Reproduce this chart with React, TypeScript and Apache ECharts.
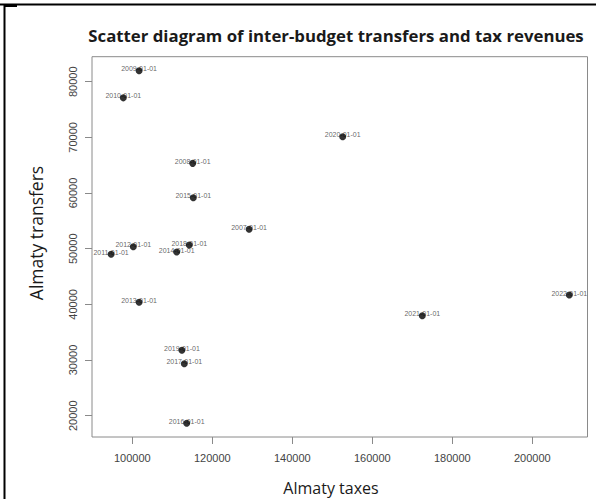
import React, { useEffect, useRef } from "react";
import * as echarts from "echarts";

// Annual observations: Almaty tax revenues vs inter-budget transfers
const dates = [
  "2007-01-01", "2008-01-01", "2009-01-01", "2010-01-01", "2011-01-01", "2012-01-01",
  "2013-01-01", "2014-01-01", "2015-01-01", "2016-01-01", "2017-01-01", "2018-01-01",
  "2019-01-01", "2020-01-01", "2021-01-01", "2022-01-01",
];
const taxes = [
  129200, 115100, 101700, 97750, 94700, 100250,
  101700, 111100, 115250, 113600, 113000, 114250,
  112400, 152600, 172500, 209250,
];
const transfers = [
  53500, 65330, 81960, 77100, 49000, 50350,
  40370, 49400, 59150, 18640, 29340, 50660,
  31750, 70100, 37960, 41680,
];
const xTicks = [100000, 120000, 140000, 160000, 180000, 200000];
const yTicks = [20000, 30000, 40000, 50000, 60000, 70000, 80000];

const W = 596;
const H = 499;

const plain = (v: number) => String(Math.round(v));

export default function App() {
  const ref = useRef<HTMLDivElement>(null);

  useEffect(() => {
    if (!ref.current) return;
    const chart = echarts.init(ref.current, undefined, { renderer: "svg", width: W, height: H });
    const points = dates.map((d, i) => [taxes[i], transfers[i], d]);

    chart.setOption({
      animation: false,
      backgroundColor: "#ffffff",
      grid: {
        left: 92,
        top: 56.7,
        width: 495.5,
        height: 380.3,
        show: true,
        borderColor: "#8a8a8a",
        borderWidth: 1,
        backgroundColor: "transparent",
      },
      xAxis: {
        type: "value",
        min: 89925,
        max: 213800,
        splitLine: { show: false },
        axisLine: { show: false },
        axisTick: { show: true, length: 7, customValues: xTicks, lineStyle: { color: "#8a8a8a" } },
        axisLabel: {
          customValues: xTicks,
          formatter: plain,
          margin: 15,
          color: "#444",
          fontSize: 11,
          fontFamily: "Liberation Sans",
        },
      },
      yAxis: {
        type: "value",
        min: 16174,
        max: 84491,
        splitLine: { show: false },
        axisLine: { show: false },
        axisTick: { show: true, length: 7, customValues: yTicks, lineStyle: { color: "#8a8a8a" } },
        axisLabel: {
          customValues: yTicks,
          formatter: plain,
          rotate: 90,
          margin: 14,
          color: "#444",
          fontSize: 11,
          fontFamily: "Liberation Sans",
        },
      },
      series: [
        {
          // date labels, drawn beneath the dots
          type: "scatter",
          z: 1,
          symbolSize: 0,
          data: points,
          label: {
            show: true,
            position: "inside",
            offset: [0, -2],
            formatter: (p: any) => p.data[2],
            fontSize: 7,
            fontFamily: "Liberation Sans",
            color: "#3a3a3a",
            textBorderWidth: 0,
          },
          silent: true,
        },
        {
          type: "scatter",
          z: 2,
          symbol: "circle",
          symbolSize: 7,
          itemStyle: { color: "#000000" },
          data: points,
        },
      ],
      graphic: [
        {
          type: "line",
          shape: { x1: 0, y1: 4.5, x2: W, y2: 4.5 },
          style: { stroke: "#000", lineWidth: 2 },
        },
        {
          type: "line",
          shape: { x1: 4.5, y1: 4, x2: 4.5, y2: H },
          style: { stroke: "#000", lineWidth: 2 },
        },
        {
          type: "line",
          shape: { x1: 4, y1: 6, x2: 17, y2: 6 },
          style: { stroke: "#000", lineWidth: 2 },
        },
        {
          type: "text",
          x: 336,
          y: 35,
          style: {
            text: "Scatter diagram of inter-budget transfers and tax revenues",
            fontFamily: "Open Sans",
            fontWeight: "bold",
            fontSize: 16.8,
            fill: "#1a1a1a",
            textAlign: "center",
            textVerticalAlign: "middle",
          },
        },
        {
          type: "text",
          x: 331,
          y: 488,
          style: {
            text: "Almaty taxes",
            fontFamily: "Open Sans",
            fontSize: 16,
            fill: "#1a1a1a",
            textAlign: "center",
            textVerticalAlign: "middle",
          },
        },
        {
          type: "text",
          x: 36,
          y: 233,
          rotation: Math.PI / 2,
          style: {
            text: "Almaty transfers",
            fontFamily: "Open Sans",
            fontSize: 17.5,
            fill: "#1a1a1a",
            textAlign: "center",
            textVerticalAlign: "middle",
          },
        },
      ],
    });

    return () => chart.dispose();
  }, []);

  return (
    <div
      ref={ref}
      style={{ position: "fixed", left: 0, top: 0, width: W, height: H, background: "#fff" }}
    />
  );
}
